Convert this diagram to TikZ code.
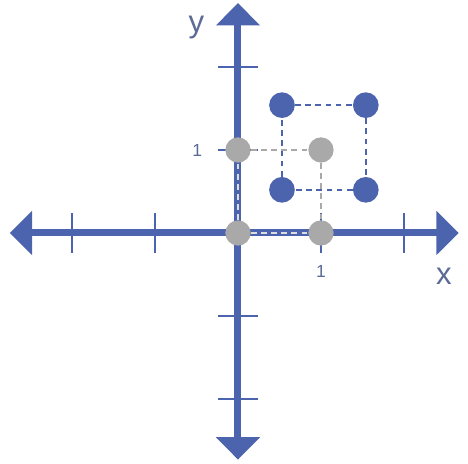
\documentclass[tikz,border=0pt]{standalone}
\usepackage{fontspec}
\setsansfont{Liberation Sans}
\usepackage{tikz}
\usetikzlibrary{arrows.meta, positioning}
\definecolor{AxisBlue}{HTML}{4C64AE}
\definecolor{DotGrey}{HTML}{A9A9A9}
\definecolor{LabelText}{HTML}{5B6A97}

\begin{document}
\begin{tikzpicture}[
    x=1.5cm, y=1.5cm,
    axis/.style={
        -{Triangle[length=11.5pt, width=22pt]}, line width=3.6pt, color=AxisBlue
    },
    tick/.style={
        line width=1pt, color=AxisBlue
    },
    bluedot/.style={
        circle, fill=AxisBlue, minimum size=13.2pt, inner sep=0pt
    },
    greydot/.style={
        circle, fill=DotGrey, minimum size=13pt, inner sep=0pt
    },
    bluedash/.style={
        line width=1.1pt, color=AxisBlue, dash pattern=on 3pt off 2.2pt
    },
    greydash/.style={
        line width=1.1pt, color=DotGrey, dash pattern=on 3pt off 2.2pt
    },
    axislabel/.style={
        font=\sffamily\fontsize{16}{16}\selectfont, color=LabelText
    },
    ticklabel/.style={
        font=\sffamily\fontsize{9}{9}\selectfont, color=LabelText
    }
]
    \useasboundingbox (-2.867,-2.771) rectangle (2.771,2.807);

    % Axes
    \coordinate (origin) at (0,0);
    \coordinate (xmin) at (-2.75,0);
    \coordinate (xmax) at (2.66,0);
    \coordinate (ymin) at (0,-2.73);
    \coordinate (ymax) at (0,2.77);
    \draw[axis] (origin) -- (xmax);
    \draw[axis] (origin) -- (xmin);
    \draw[axis] (origin) -- (ymax);
    \draw[axis] (origin) -- (ymin);

    % Ticks
    \foreach \t in {-2,-1,1,2} {
        \draw[tick] (\t,-0.24) -- (\t,0.24);
        \draw[tick] (-0.24,\t) -- (0.24,\t);
    }

    % Labels
    \node[axislabel] (xlabel) at (2.48,-0.52) {x};
    \node[axislabel] (ylabel) at (-0.5,2.47) {y};
    \node[ticklabel] (xone) at (1,-0.46) {1};
    \node[ticklabel] (yone) at (-0.49,1) {1};

    % Points
    \node[greydot] (g00) at (0,0) {};
    \node[greydot] (g10) at (1,0) {};
    \node[greydot] (g01) at (0,1) {};
    \node[greydot] (g11) at (1,1) {};

    \node[bluedot] (b1) at (0.53,1.54) {};
    \node[bluedot] (b2) at (1.54,1.54) {};
    \node[bluedot] (b3) at (0.53,0.52) {};
    \node[bluedot] (b4) at (1.54,0.52) {};

    % Dashed links
    \draw[bluedash] (b1) -- (b2);
    \draw[bluedash] (b2) -- (b4);
    \draw[bluedash] (b4) -- (b3);
    \draw[bluedash] (b3) -- (b1);

    \draw[greydash] (g01) -- (g11);
    \draw[greydash] (g11) -- (g10);
    \draw[greydash, color=DotGrey!40] (g00) -- (g10);
    \draw[greydash, color=DotGrey!40] (g00) -- (g01);

\end{tikzpicture}
\end{document}
